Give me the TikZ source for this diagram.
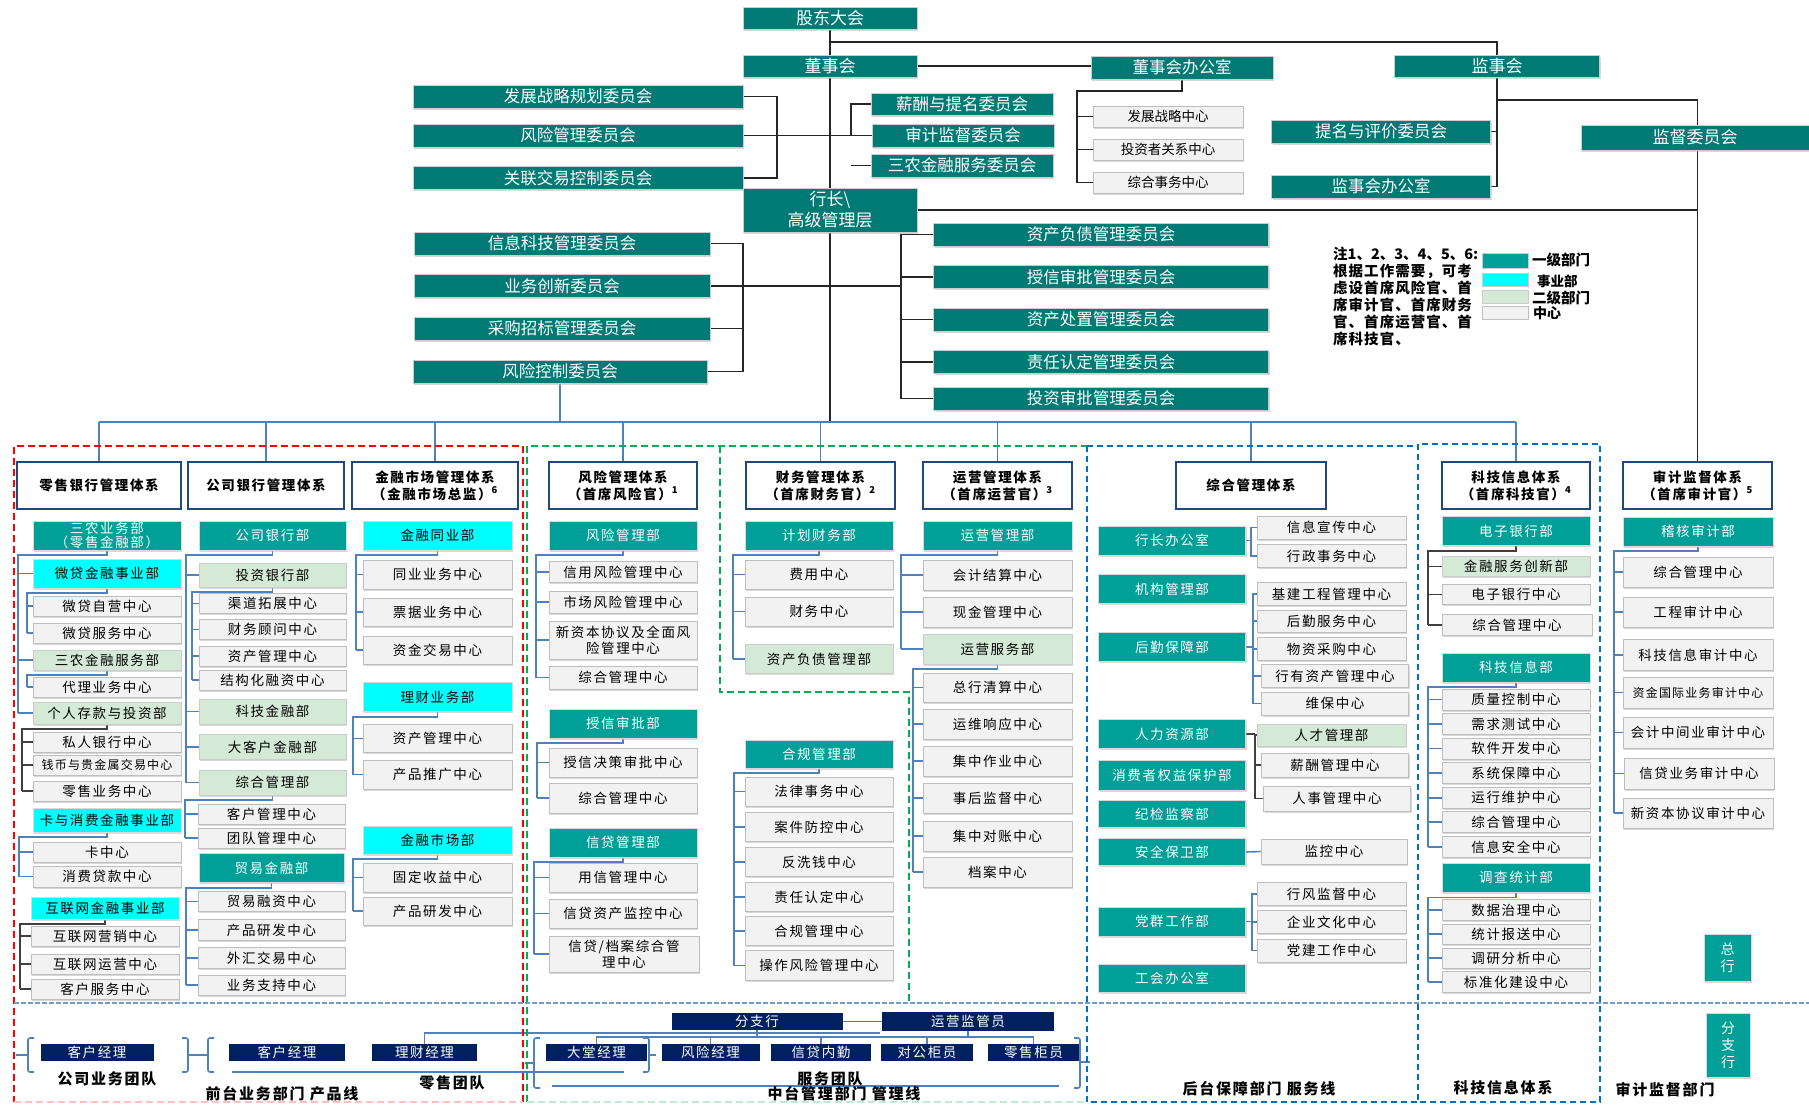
\documentclass[tikz,border=0pt]{standalone}
\usepackage{fontspec}
\setmainfont{Noto Sans CJK SC}
\usetikzlibrary{backgrounds,shadows}
\definecolor{topteal}{RGB}{0,122,116}
\definecolor{deptteal}{RGB}{0,160,152}
\definecolor{unitcyan}{RGB}{0,255,255}
\definecolor{lgreen}{RGB}{213,234,214}
\definecolor{ctrgray}{RGB}{242,242,242}
\definecolor{ctrline}{RGB}{190,190,190}
\definecolor{sysblue}{RGB}{31,73,125}
\definecolor{lineblue}{RGB}{79,129,189}
\definecolor{navyb}{RGB}{0,32,96}
\definecolor{dgreen}{RGB}{0,176,80}
\definecolor{dblue}{RGB}{0,112,192}
\newcommand\fs[2]{\fontsize{#1}{#2}\selectfont}
\newcommand\ls{\addfontfeature{LetterSpace=12}}
\newcommand\branch[5][5]{%
  \foreach \ch in {#5}{\draw[#2] (\ch.west) -- (\ch.west -| #4); \global\let\lastchild\ch}%
  \draw[#2] (#3.south) -- ++(0,#1) -| (\lastchild.west -| #4);}
\tikzset{
 wd/.style={minimum width=#1},
 ht/.style={minimum height=#1},
 bx/.style={inner sep=0pt, align=center, font=\fs{13.5}{16}\ls},
 sh/.style={drop shadow={shadow xshift=1.2pt, shadow yshift=-1.8pt, fill=black!30, opacity=.5}},
 top/.style={bx, sh, fill=topteal, draw=black!20, text=white, font=\fs{16.5}{19}},
 sys/.style={bx, fill=white, draw=sysblue, line width=1.6pt, minimum height=47, font=\bfseries\fs{13.5}{17}\ls},
 dept/.style={bx, sh, fill=deptteal, draw=black!15, text=white, font=\fs{13.5}{16}\ls},
 unit/.style={bx, sh, fill=unitcyan, draw=black!15, font=\fs{13.5}{16}\ls},
 sub/.style={bx, sh, fill=lgreen, draw=black!20, font=\fs{13.5}{16}\ls},
 ctr/.style={bx, sh, fill=ctrgray, draw=ctrline, line width=.8pt, font=\fs{13.5}{16}\ls},
 nav/.style={bx, fill=navyb, text=white, font=\fs{13.5}{15}\ls, minimum height=17},
 lab/.style={inner sep=0pt, font=\bfseries\fs{15}{17}\ls},
 conn/.style={draw=lineblue, line width=1.6pt},
 dconn/.style={draw=black!75, line width=1.6pt},
 blk/.style={draw=black!85, line width=1.8pt},
 reddash/.style={draw=red, line width=2pt, dash pattern=on 7pt off 4pt},
 greendash/.style={draw=dgreen, line width=2pt, dash pattern=on 7pt off 4pt},
 bluedash/.style={draw=dblue, line width=2pt, dash pattern=on 6pt off 4pt},
 sepdash/.style={draw=lineblue!80, line width=2.5pt, dash pattern=on 5pt off 2pt},
 brace/.style={draw=lineblue, line width=1.6pt, rounded corners=2pt},
}
\begin{document}
\begin{tikzpicture}[x=1pt,y=-1pt]
\useasboundingbox (0,0) rectangle (1809,1104);
% ---------------- top ----------------
\node[top, wd=174, ht=22, font=\fs{17}{19}] (gd) at (830,18) {股东大会};
\node[top, wd=174, ht=22, font=\fs{17}{19}] (dsh) at (830,66) {董事会};
\node[top, wd=182, ht=23] (dbo) at (1182,67.5) {董事会办公室};
\node[ctr, wd=150, ht=21, font=\fs{13.5}{16}] (fzzl) at (1168,116.5) {发展战略中心};
\node[ctr, wd=150, ht=21, font=\fs{13.5}{16}] (tzz) at (1168,149.5) {投资者关系中心};
\node[ctr, wd=150, ht=21, font=\fs{13.5}{16}] (zhsw) at (1168,182.5) {综合事务中心};
\node[top, wd=330, ht=23] (c1) at (578,96.5) {发展战略规划委员会};
\node[top, wd=330, ht=23] (c2) at (578,135.5) {风险管理委员会};
\node[top, wd=330, ht=23] (c3) at (578,178) {关联交易控制委员会};
\node[top, wd=182, ht=22] (c4) at (962,104) {薪酬与提名委员会};
\node[top, wd=182, ht=23] (c5) at (963,135.5) {审计监督委员会};
\node[top, wd=182, ht=23] (c6) at (962,165.5) {三农金融服务委员会};
\node[top, wd=174, ht=44, font=\fs{17}{21}] (hz) at (830,210) {行长\textbackslash\\高级管理层};
\node[top, wd=205, ht=22, font=\fs{17}{19}] (jsh) at (1497,66) {监事会};
\node[top, wd=219, ht=23] (tm) at (1381,131.5) {提名与评价委员会};
\node[top, wd=219, ht=23] (jbo) at (1381,186.5) {监事会办公室};
\node[top, wd=228, ht=25, font=\fs{17}{19}] (jd) at (1695,137.5) {监督委员会};
\node[top, wd=296, ht=23] (c7) at (562,243.5) {信息科技管理委员会};
\node[top, wd=296, ht=23] (c8) at (562,286) {业务创新委员会};
\node[top, wd=296, ht=23] (c9) at (562,328.5) {采购招标管理委员会};
\node[top, wd=294, ht=23] (c10) at (560,371.5) {风险控制委员会};
\node[top, wd=335, ht=23] (c11) at (1101,234.5) {资产负债管理委员会};
\node[top, wd=335, ht=23] (c12) at (1101,277) {授信审批管理委员会};
\node[top, wd=335, ht=23] (c13) at (1101,319.5) {资产处置管理委员会};
\node[top, wd=335, ht=23] (c14) at (1101,362) {责任认定管理委员会};
\node[top, wd=335, ht=23] (c15) at (1101,398.5) {投资审批管理委员会};
% legend
\node[inner sep=0pt, anchor=north west, align=left, font=\bfseries\fs{14.5}{17}\addfontfeature{LetterSpace=7}] (note) at (1333,247)
 {{\addfontfeature{LetterSpace=0}注1、2、3、4、5、6:}\\根据工作需要，可考\\虑设首席风险官、首\\席审计官、首席财务\\官、首席运营官、首\\席科技官、};
\node[inner sep=0pt, fill=deptteal, draw=black!20, minimum width=46, minimum height=15] (lg1) at (1505,260.5) {};
\node[inner sep=0pt, fill=unitcyan, draw=black!20, minimum width=46, minimum height=13] (lg2) at (1505,279.5) {};
\node[inner sep=0pt, fill=lgreen, draw=black!20, minimum width=46, minimum height=13] (lg3) at (1505,296.5) {};
\node[inner sep=0pt, fill=ctrgray, draw=black!25, minimum width=46, minimum height=13] (lg4) at (1505,312.5) {};
\node[inner sep=0pt, anchor=west, font=\bfseries\fs{14.5}{16}] (lt1) at (1532,260) {一级部门};
\node[inner sep=0pt, anchor=west, font=\bfseries\fs{13.5}{16}] (lt2) at (1537,281) {事业部};
\node[inner sep=0pt, anchor=west, font=\bfseries\fs{14.5}{16}] (lt3) at (1532,298) {二级部门};
\node[inner sep=0pt, anchor=west, font=\bfseries\fs{14}{16}] (lt4) at (1533,313) {中心};
% ---------------- systems ----------------
\node[sys, wd=164] (s1) at (99,485.5) {零售银行管理体系};
\node[sys, wd=156] (s2) at (266,485.5) {公司银行管理体系};
\node[sys, wd=166] (s3) at (435,485.5) {金融市场管理体系\\（金融市场总监）\textsuperscript{6}};
\node[sys, wd=148] (s4) at (623,485.5) {风险管理体系\\（首席风险官）\textsuperscript{1}};
\node[sys, wd=149] (s5) at (820.5,485.5) {财务管理体系\\（首席财务官）\textsuperscript{2}};
\node[sys, wd=149] (s6) at (997.5,485.5) {运营管理体系\\（首席运营官）\textsuperscript{3}};
\node[sys, wd=150] (s7) at (1251,485.5) {综合管理体系};
\node[sys, wd=148] (s8) at (1516,485.5) {科技信息体系\\（首席科技官）\textsuperscript{4}};
\node[sys, wd=149] (s9) at (1697.5,485.5) {审计监督体系\\（首席审计官）\textsuperscript{5}};
% ---------------- retail ----------------
\begin{scope}[every node/.append style={wd=148}]
\node[dept, ht=29, font=\fs{13.5}{14}\ls] (r0) at (107,535.5) {三农业务部\\（零售金融部）};
\node[unit, ht=29] (r1) at (107,573.5) {微贷金融事业部};
\node[ctr, ht=20] (r2) at (107,606) {微贷自营中心};
\node[ctr, ht=20] (r3) at (107,633) {微贷服务中心};
\node[sub, ht=20] (r4) at (107,660) {三农金融服务部};
\node[ctr, ht=20] (r5) at (107,687) {代理业务中心};
\node[sub, ht=22] (r6) at (107,713) {个人存款与投资部};
\node[ctr, ht=20] (r7) at (107,742) {私人银行中心};
\node[ctr, ht=20, font=\fs{12}{14}\addfontfeature{LetterSpace=10}] (r8) at (107,765) {钱币与贵金属交易中心};
\node[ctr, ht=20] (r9) at (107,791) {零售业务中心};
\node[unit, ht=24] (r10) at (107,820) {卡与消费金融事业部};
\node[ctr, ht=20] (r11) at (107,852) {卡中心};
\node[ctr, ht=21] (r12) at (107,876.5) {消费贷款中心};
\node[unit, ht=22] (r13) at (105,908) {互联网金融事业部};
\node[ctr, ht=20] (r14) at (105,936) {互联网营销中心};
\node[ctr, ht=20] (r15) at (105,964) {互联网运营中心};
\node[ctr, ht=20] (r16) at (105,989) {客户服务中心};
\end{scope}
% ---------------- corporate ----------------
\begin{scope}[every node/.append style={wd=147}]
\node[dept, ht=29] (p0) at (272.5,535.5) {公司银行部};
\node[sub, ht=24] (p1) at (272.5,575) {投资银行部};
\node[ctr, ht=20] (p2) at (272.5,603.6) {渠道拓展中心};
\node[ctr, ht=20] (p3) at (272.5,629.5) {财务顾问中心};
\node[ctr, ht=20] (p4) at (272.5,656) {资产管理中心};
\node[ctr, ht=20] (p5) at (272.5,680) {结构化融资中心};
\node[sub, ht=25] (p6) at (272.5,711.5) {科技金融部};
\node[sub, ht=25] (p7) at (272.5,747) {大客户金融部};
\node[sub, ht=25] (p8) at (272.5,782.5) {综合管理部};
\node[ctr, ht=20] (p9) at (271.5,814) {客户管理中心};
\node[ctr, ht=20] (p10) at (271.5,838) {团队管理中心};
\node[dept, ht=29, wd=145] (p11) at (271.5,868) {贸易金融部};
\node[ctr, ht=20] (p12) at (271.5,901.6) {贸易融资中心};
\node[ctr, ht=21] (p13) at (271.5,930) {产品研发中心};
\node[ctr, ht=21] (p14) at (271.5,958) {外汇交易中心};
\node[ctr, ht=20] (p15) at (271.5,985) {业务支持中心};
\end{scope}
% ---------------- financial market ----------------
\begin{scope}[every node/.append style={wd=149}]
\node[unit, ht=29] (m0) at (437.5,535.5) {金融同业部};
\node[ctr, ht=29] (m1) at (437.5,574.5) {同业业务中心};
\node[ctr, ht=28] (m2) at (437.5,612) {票据业务中心};
\node[ctr, ht=28] (m3) at (437.5,650) {资金交易中心};
\node[unit, ht=29] (m4) at (437.5,697) {理财业务部};
\node[ctr, ht=28] (m5) at (437.5,738.6) {资产管理中心};
\node[ctr, ht=29] (m6) at (437.5,774.5) {产品推广中心};
\node[unit, ht=28] (m7) at (437.5,840) {金融市场部};
\node[ctr, ht=29] (m8) at (437.5,877.6) {固定收益中心};
\node[ctr, ht=28] (m9) at (437.5,911) {产品研发中心};
\end{scope}
% ---------------- risk ----------------
\begin{scope}[every node/.append style={wd=148}]
\node[dept, ht=29] (k0) at (623,535.5) {风险管理部};
\node[ctr, ht=21] (k1) at (623,572) {信用风险管理中心};
\node[ctr, ht=22] (k2) at (623,602) {市场风险管理中心};
\node[ctr, ht=38] (k3) at (623,640) {新资本协议及全面风\\险管理中心};
\node[ctr, ht=23] (k4) at (623,677.5) {综合管理中心};
\node[dept, ht=29] (k5) at (623,723.5) {授信审批部};
\node[ctr, ht=29] (k6) at (623,762.5) {授信决策审批中心};
\node[ctr, ht=30] (k7) at (623,798) {综合管理中心};
\node[dept, ht=29] (k8) at (623,842.5) {信贷管理部};
\node[ctr, ht=29] (k9) at (623,877.6) {用信管理中心};
\node[ctr, ht=29] (k10) at (623,913.5) {信贷资产监控中心};
\node[ctr, ht=36, wd=150] (k11) at (624,954) {信贷/档案综合管\\理中心};
\end{scope}
% ---------------- finance ----------------
\begin{scope}[every node/.append style={wd=148}]
\node[dept, ht=29] (f0) at (819,535.5) {计划财务部};
\node[ctr, ht=29] (f1) at (819,574.5) {费用中心};
\node[ctr, ht=29] (f2) at (819,611.5) {财务中心};
\node[sub, ht=29] (f3) at (819,659) {资产负债管理部};
\node[dept, ht=28] (f4) at (819,754) {合规管理部};
\node[ctr, ht=29] (f5) at (819,791.6) {法律事务中心};
\node[ctr, ht=29] (f6) at (819,827) {案件防控中心};
\node[ctr, ht=29] (f7) at (819,862) {反洗钱中心};
\node[ctr, ht=29] (f8) at (819,897) {责任认定中心};
\node[ctr, ht=29] (f9) at (819,931) {合规管理中心};
\node[ctr, ht=30] (f10) at (819,965.6) {操作风险管理中心};
\end{scope}
% ---------------- operations ----------------
\begin{scope}[every node/.append style={wd=149}]
\node[dept, ht=29] (o0) at (997.5,535.5) {运营管理部};
\node[ctr, ht=30] (o1) at (997.5,575) {会计结算中心};
\node[ctr, ht=30] (o2) at (997.5,612) {现金管理中心};
\node[sub, ht=30] (o3) at (997.5,649) {运营服务部};
\node[ctr, ht=29] (o4) at (997.5,687.5) {总行清算中心};
\node[ctr, ht=30] (o5) at (997.5,724) {运维响应中心};
\node[ctr, ht=30] (o6) at (997.5,761) {集中作业中心};
\node[ctr, ht=30] (o7) at (997.5,798) {事后监督中心};
\node[ctr, ht=30] (o8) at (997.5,836) {集中对账中心};
\node[ctr, ht=30] (o9) at (997.5,872) {档案中心};
\end{scope}
% ---------------- general management ----------------
\begin{scope}[every node/.append style={wd=147}]
\node[dept, ht=29] (g1) at (1172,540.5) {行长办公室};
\node[dept, ht=29] (g2) at (1172,589) {机构管理部};
\node[dept, ht=29] (g3) at (1172,647) {后勤保障部};
\node[dept, ht=29] (g4) at (1172,734) {人力资源部};
\node[dept, ht=30] (g5) at (1172,775) {消费者权益保护部};
\node[dept, ht=27] (g6) at (1172,814) {纪检监察部};
\node[dept, ht=27] (g7) at (1172,852) {安全保卫部};
\node[dept, ht=29] (g8) at (1172,921.5) {党群工作部};
\node[dept, ht=28] (g9) at (1172,978) {工会办公室};
\end{scope}
\begin{scope}[every node/.append style={wd=149}]
\node[ctr, ht=23] (h1) at (1331.5,527.5) {信息宣传中心};
\node[ctr, ht=23] (h2) at (1331.5,556) {行政事务中心};
\node[ctr, ht=23] (h3) at (1331.5,594) {基建工程管理中心};
\node[ctr, ht=22] (h4) at (1331.5,621) {后勤服务中心};
\node[ctr, ht=23] (h5) at (1331.5,649) {物资采购中心};
\node[ctr, ht=23, wd=147] (h6) at (1335,676) {行有资产管理中心};
\node[ctr, ht=23, wd=147] (h7) at (1335,703.5) {维保中心};
\node[sub, ht=22] (h8) at (1331.5,735) {人才管理部};
\node[ctr, ht=24, wd=147] (h9) at (1335,765) {薪酬管理中心};
\node[ctr, ht=25, wd=147] (h10) at (1337,798.5) {人事管理中心};
\node[ctr, ht=25, wd=146] (h11) at (1334,851.5) {监控中心};
\node[ctr, ht=23] (h12) at (1331.5,894) {行风监督中心};
\node[ctr, ht=23] (h13) at (1331.5,922) {企业文化中心};
\node[ctr, ht=23] (h14) at (1331.5,950.5) {党建工作中心};
\end{scope}
% ---------------- tech ----------------
\begin{scope}[every node/.append style={wd=148}]
\node[dept, ht=29] (t0) at (1516,531) {电子银行部};
\node[sub, ht=20] (t1) at (1516,566.5) {金融服务创新部};
\node[ctr, ht=20] (t2) at (1516,594.5) {电子银行中心};
\node[ctr, ht=21, wd=150] (t3) at (1517,625) {综合管理中心};
\node[dept, ht=29] (t4) at (1516,667.5) {科技信息部};
\node[ctr, ht=21] (t5) at (1516,699.5) {质量控制中心};
\node[ctr, ht=21] (t6) at (1516,724) {需求测试中心};
\node[ctr, ht=21] (t7) at (1516,748.5) {软件开发中心};
\node[ctr, ht=21] (t8) at (1516,773) {系统保障中心};
\node[ctr, ht=21] (t9) at (1516,797.7) {运行维护中心};
\node[ctr, ht=21] (t10) at (1516,822) {综合管理中心};
\node[ctr, ht=21] (t11) at (1516,847) {信息安全中心};
\node[dept, ht=29] (t12) at (1516,877.6) {调查统计部};
\node[ctr, ht=21] (t13) at (1516,910) {数据治理中心};
\node[ctr, ht=20] (t14) at (1516,934) {统计报送中心};
\node[ctr, ht=20] (t15) at (1516,958) {调研分析中心};
\node[ctr, ht=21] (t16) at (1516,982) {标准化建设中心};
\end{scope}
% ---------------- audit ----------------
\begin{scope}[every node/.append style={wd=150}]
\node[dept, ht=29] (a0) at (1698,531.5) {稽核审计部};
\node[ctr, ht=30] (a1) at (1698,572) {综合管理中心};
\node[ctr, ht=30] (a2) at (1698,612) {工程审计中心};
\node[ctr, ht=31] (a3) at (1698,655) {科技信息审计中心};
\node[ctr, ht=31, font=\fs{12}{15}\addfontfeature{LetterSpace=10}] (a4) at (1698,692.5) {资金国际业务审计中心};
\node[ctr, ht=31] (a5) at (1698,732.5) {会计中间业审计中心};
\node[ctr, ht=31] (a6) at (1699,773.5) {信贷业务审计中心};
\node[ctr, ht=30] (a7) at (1698,813) {新资本协议审计中心};
\end{scope}
\node[dept, wd=47, ht=47, font=\fs{14}{17}] (zh) at (1727.5,958) {总\\行};
% ---------------- branch level ----------------
\node[nav, wd=113] (b1) at (97,1052.5) {客户经理};
\node[nav, wd=116] (b2) at (287,1052.5) {客户经理};
\node[nav, wd=105] (b3) at (424.5,1052.5) {理财经理};
\node[nav, wd=171] (fzh) at (757,1021.5) {分支行};
\node[nav, wd=172, ht=19] (yy) at (968,1021) {运营监管员};
\node[nav, wd=101] (b4) at (596.5,1052.5) {大堂经理};
\node[nav, wd=98] (b5) at (710.5,1052.5) {风险经理};
\node[nav, wd=100] (b6) at (821,1052.5) {信贷内勤};
\node[nav, wd=92] (b7) at (927,1052.5) {对公柜员};
\node[nav, wd=91] (b8) at (1033.5,1052.5) {零售柜员};
\node[lab] (l1) at (107,1079) {公司业务团队};
\node[lab] (l2) at (282,1093.5) {前台业务部门 产品线};
\node[lab] (l3) at (452,1083) {零售团队};
\node[lab] (l4) at (830,1079) {服务团队};
\node[lab] (l5) at (844,1094) {中台管理部门 管理线};
\node[lab] (l6) at (1259,1089) {后台保障部门 服务线};
\node[lab] (l7) at (1503,1088) {科技信息体系};
\node[lab] (l8) at (1665,1090) {审计监督部门};
\node[dept, wd=44, ht=64, font=\fs{14}{17}] (fzv) at (1728,1045) {分\\支\\行};
% ================= connectors =================
\begin{scope}[on background layer]
\coordinate (y42) at (0,42);
\coordinate (y100) at (0,100);
\coordinate (bus) at (0,422);
\coordinate (sp0) at (1077,0);
\coordinate (spL1) at (777,0);
\coordinate (spR1) at (851,0);
\coordinate (spL2) at (743,0);
\coordinate (spR2) at (901,0);
\draw[blk] (gd.south) -- (dsh.north);
\draw[blk] (gd.south |- y42) -| (jsh.north);
\draw[blk] (dsh.south) -- (hz.north);
\draw[blk] (dsh.east) -- (dsh.east -| dbo.west);
\branch[12]{blk}{dbo}{sp0}{fzzl,tzz,zhsw}
\draw[blk] (c1.east) -| (c3.east -| spL1) -- (c3.east);
\draw[blk] (c2.east) -- (c5.west);
\draw[blk] (c4.west) -- (c4.west -| spR1) -- (c5.west -| spR1);
\draw[blk] (c6.west) -- (c6.west -| spR1);
\draw[blk] (c7.east) -| (c10.east -| spL2) -- (c10.east);
\draw[blk] (c9.east) -- (c9.east -| spL2);
\draw[blk] (c8.east) -- (c8.east -| spR2);
\draw[blk] (c11.west) -| (c15.west -| spR2) -- (c15.west);
\foreach \ch in {c12,c13,c14} \draw[blk] (\ch.west) -- (\ch.west -| spR2);
\draw[blk] (jsh.south) -- (jsh.south |- jbo.east) -- (jbo.east);
\draw[blk] (tm.east) -- (tm.east -| jsh.south);
\draw[blk] (jsh.south |- y100) -- (s9.north |- y100) -- (s9.north);
\draw[blk] (hz.east) -- (hz.east -| s9.north);
\draw[blk] (hz.south) -- (hz.south |- bus);
\draw[conn] (c10.south) -- (c10.south |- bus);
\draw[conn] (s1.north |- bus) -- (s8.north |- bus);
\foreach \ch in {s1,s2,s3,s4,s5,s6,s7,s8} \draw[conn] (\ch.north) -- (\ch.north |- bus);
% columns
\coordinate (q1) at (18,0); \coordinate (q2) at (27,0); \coordinate (q3) at (22,0);
\coordinate (q4) at (19,0); \coordinate (q5) at (20,0);
\branch{conn}{r0}{q1}{r1,r4,r6}
\branch{conn}{r1}{q2}{r2,r3}
\branch{conn}{r4}{q2}{r5}
\branch{dconn}{r6}{q3}{r7,r8,r9}
\branch{conn}{r10}{q4}{r11,r12}
\branch{dconn}{r13}{q5}{r14,r15,r16}
\coordinate (q6) at (186,0); \coordinate (q7) at (192,0); \coordinate (q8) at (185,0);
\branch{conn}{p0}{q6}{p1,p6,p7,p8}
\branch{conn}{p1}{q7}{p2,p3,p4,p5}
\branch{conn}{p8}{q8}{p9,p10}
\branch{conn}{p11}{q6}{p12,p13,p14,p15}
\coordinate (q9) at (356,0); \coordinate (q10) at (353,0);
\branch{conn}{m0}{q9}{m1,m2,m3}
\branch{conn}{m4}{q10}{m5,m6}
\branch{conn}{m7}{q10}{m8,m9}
\coordinate (q11) at (536,0); \coordinate (q12) at (537,0); \coordinate (q13) at (534,0);
\branch{conn}{k0}{q11}{k1,k2,k3,k4}
\branch{conn}{k5}{q12}{k6,k7}
\branch{conn}{k8}{q13}{k9,k10,k11}
\coordinate (q14) at (733,0); \coordinate (q15) at (734,0);
\branch{conn}{f0}{q14}{f1,f2,f3}
\branch{conn}{f4}{q15}{f5,f6,f7,f8,f9,f10}
\coordinate (q16) at (901,0); \coordinate (q17) at (913,0);
\branch{conn}{o0}{q16}{o1,o2,o3}
\branch{conn}{o3}{q17}{o4,o5,o6,o7,o8,o9}
\coordinate (gs1) at (1251,0); \coordinate (gs3) at (1253,0);
\coordinate (gs4) at (1255,0); \coordinate (gs8) at (1252,0);
\draw[conn] (g1.east) -- (g1.east -| gs1);
\draw[conn] (h1.west) -| (h2.west -| gs1) -- (h2.west);
\draw[conn] (g3.east) -- (g3.east -| gs3);
\draw[conn] (h3.west) -| (h7.west -| gs3) -- (h7.west);
\foreach \ch in {h4,h5,h6} \draw[conn] (\ch.west) -- (\ch.west -| gs3);
\draw[dconn] (g4.east) -- (g4.east -| gs4);
\draw[dconn] (h8.west) -| (h10.west -| gs4) -- (h10.west);
\draw[dconn] (h9.west) -- (h9.west -| gs4);
\draw[conn] (g7.east) -- (h11.west);
\draw[conn] (g8.east) -- (g8.east -| gs8);
\draw[conn] (h12.west) -| (h14.west -| gs8) -- (h14.west);
\draw[conn] (h13.west) -- (h13.west -| gs8);
\coordinate (q18) at (1428,0);
\branch{dconn}{t0}{q18}{t1,t2,t3}
\branch{conn}{t4}{q18}{t5,t6,t7,t8,t9,t10,t11}
\branch{conn}{t12}{q18}{t13,t14,t15,t16}
\coordinate (q19) at (1614,0);
\branch{conn}{a0}{q19}{a1,a2,a3,a4,a5,a6,a7}
% bottom
\coordinate (yb) at (0,1037);
\coordinate (la) at (880,1033);
\draw[conn] (b4.north) |- (b8.north |- yb) -- (b8.north);
\foreach \ch in {b5,b6,b7} \draw[conn] (\ch.north) -- (\ch.north |- yb);
\draw[conn] (fzh.south) -- (fzh.south |- yb);
\draw[conn] (yy.south) -- (yy.south |- yb);
\draw[conn] (fzh.east) -- (yy.west |- fzh.east);
\draw[conn] (b3.north) |- (la);
\draw[conn] (232,1072) -- (624,1072);
\draw[conn] (552,1086) -- (1059,1086);
\draw[brace] (34,1038) -- (28,1038) -- (28,1072) -- (34,1072);
\draw[conn] (16,1055) -- (28,1055);
\draw[brace] (182,1038) -- (188,1038) -- (188,1072) -- (182,1072);
\draw[conn] (188,1055) -- (208,1055);
\draw[brace] (214,1038) -- (208,1038) -- (208,1072) -- (214,1072);
\draw[brace] (643,1038) -- (649,1038) -- (649,1072) -- (643,1072);
\draw[conn] (649,1055) -- (656,1055);
\draw[brace] (540,1038) -- (534,1038) -- (534,1088) -- (540,1088);
\draw[conn] (525,1063) -- (534,1063);
\draw[brace] (1074,1038) -- (1080,1038) -- (1080,1088) -- (1074,1088);
\draw[conn] (1080,1062) -- (1090,1062);
% dashed regions
\draw[reddash] (523,1102) -- (523,446) -- (14,446) -- (14,1102);
\draw[draw=red!25, line width=2pt, dash pattern=on 7pt off 4pt] (14,1102) -- (523,1102);
\draw[greendash] (527,1102) -- (527,446) -- (1087,446);
\draw[greendash] (720,446) -- (720,692) -- (909,692) -- (909,1003);
\draw[draw=dgreen!25, line width=2pt, dash pattern=on 7pt off 4pt] (527,1102) -- (1087,1102);
\draw[bluedash] (1087,446) -- (1087,1102) -- (1418,1102);
\draw[bluedash] (1087,446) -- (1418,446);
\draw[bluedash] (1418,444) rectangle (1600,1102);
\draw[sepdash] (14,1003) -- (1809,1003);
\end{scope}
\end{tikzpicture}
\end{document}
